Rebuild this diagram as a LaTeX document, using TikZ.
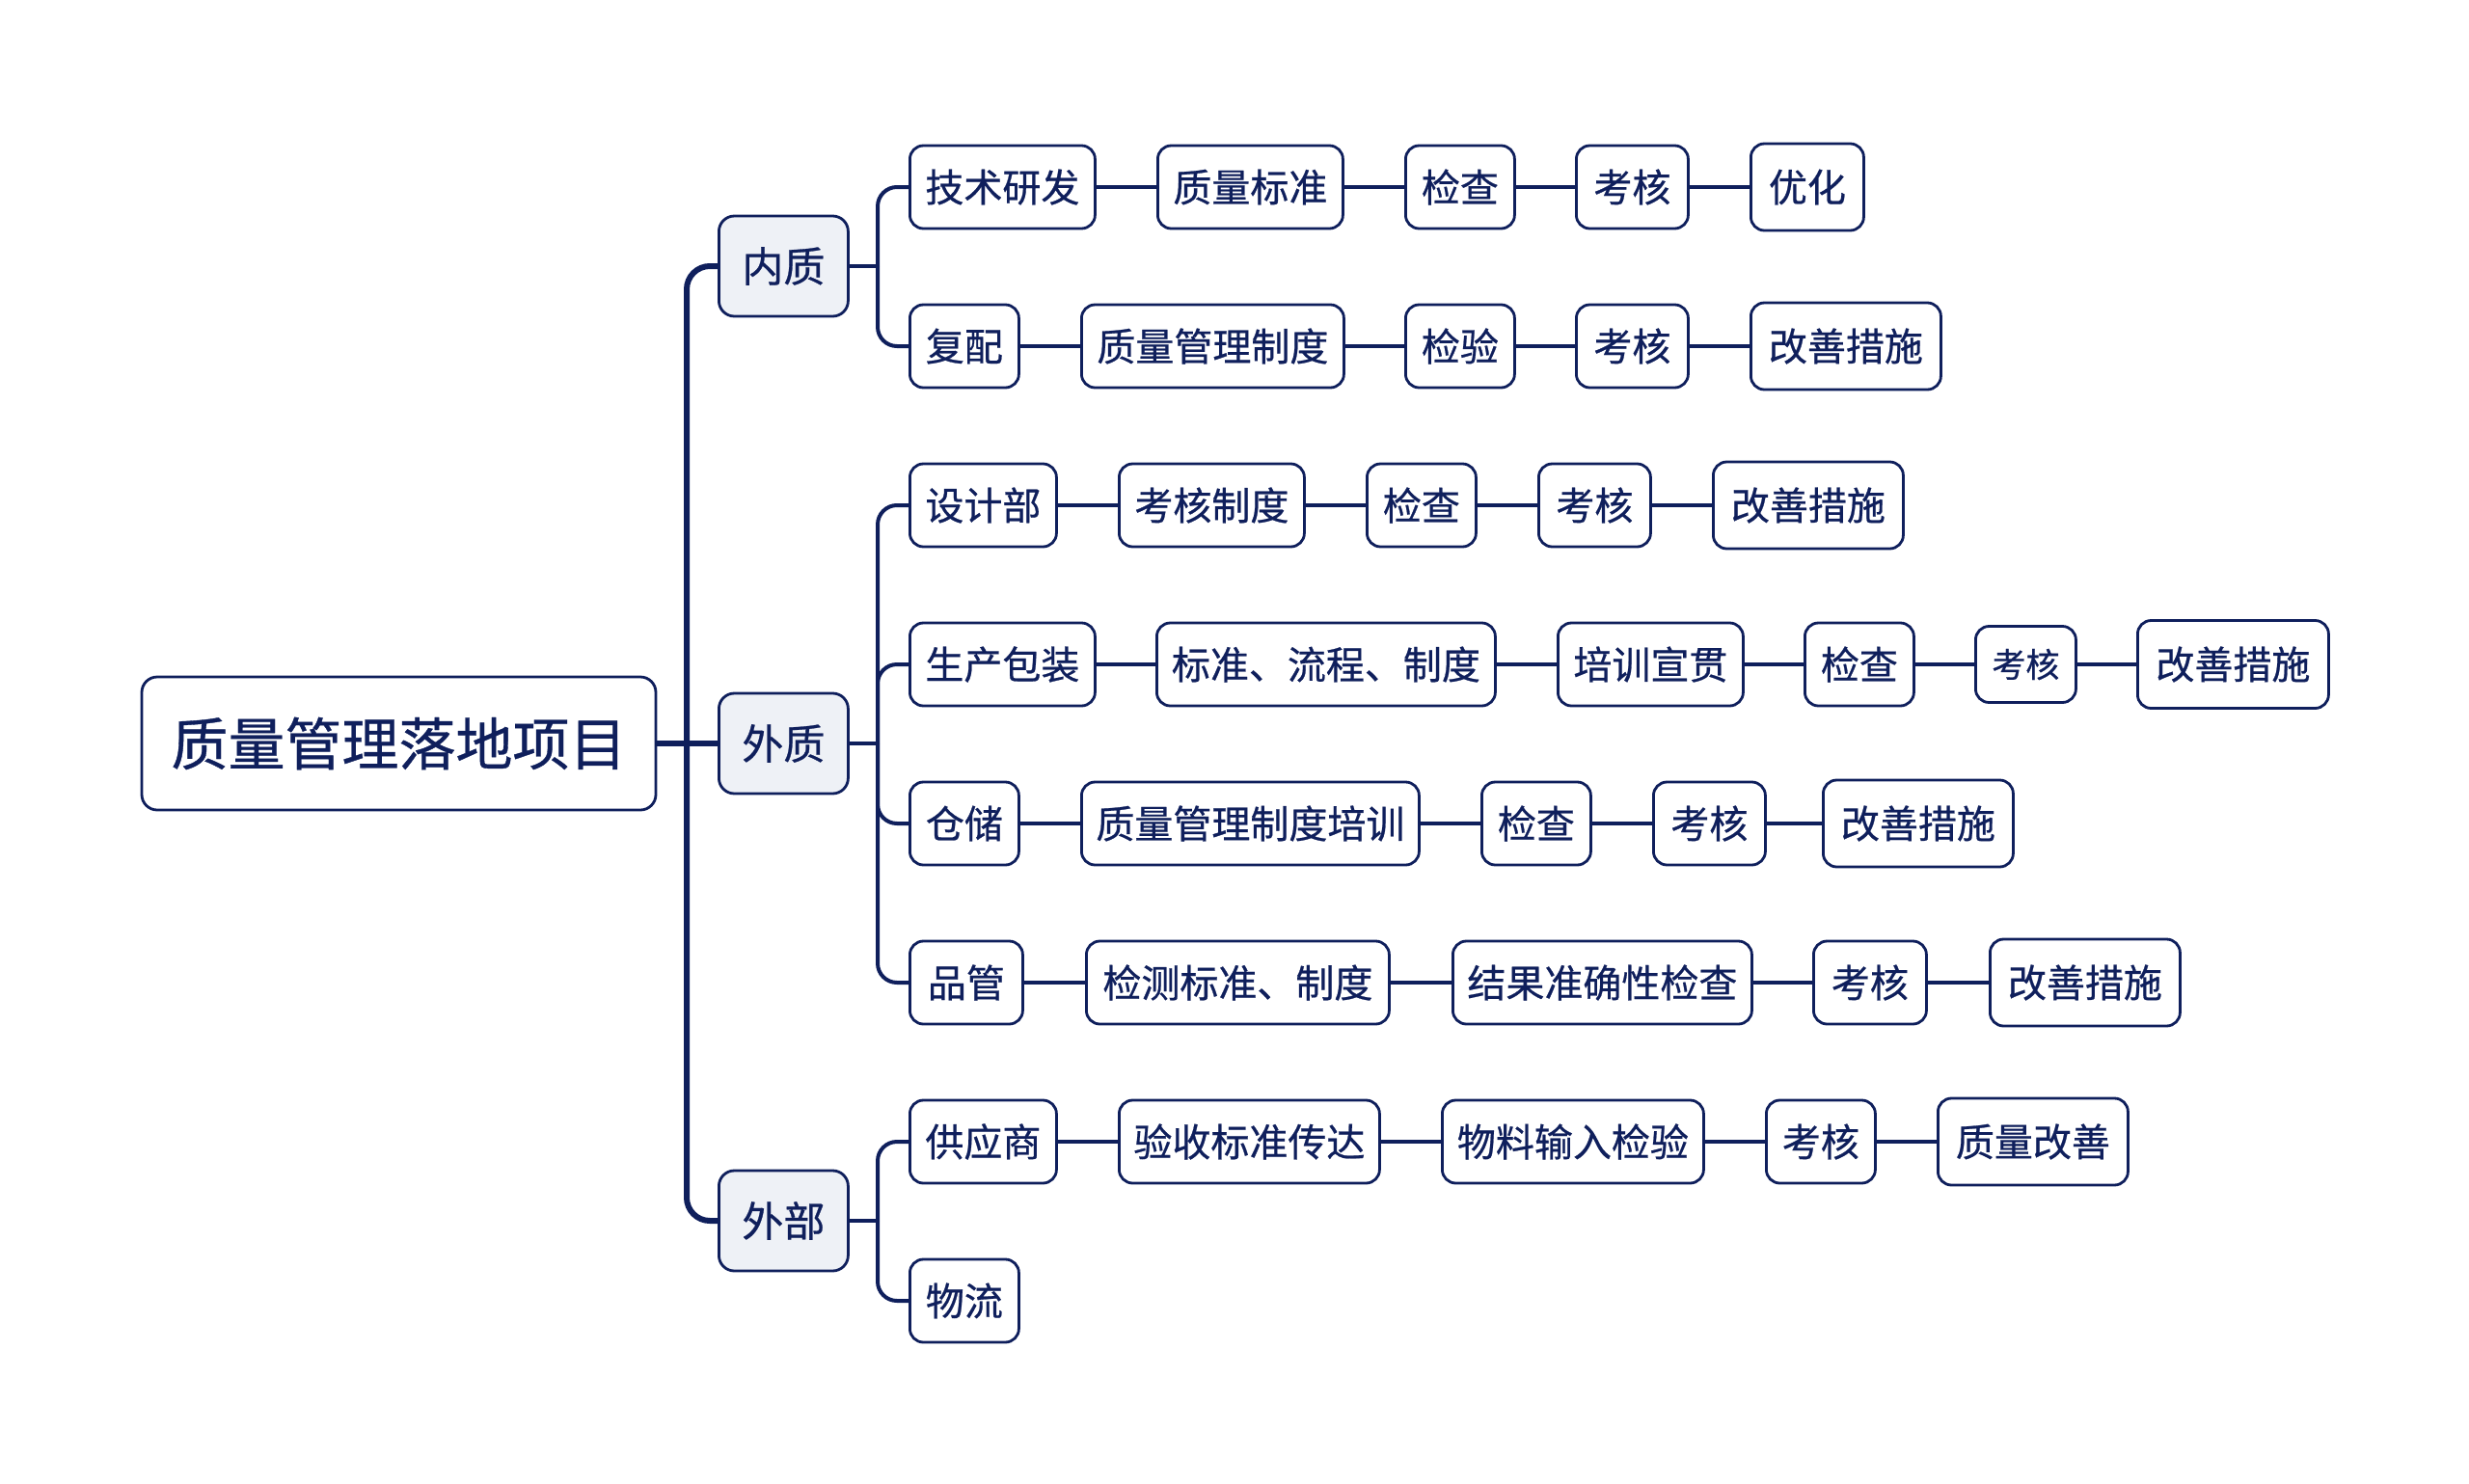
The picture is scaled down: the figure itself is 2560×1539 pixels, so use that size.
\documentclass[tikz,border=0pt]{standalone}
\usepackage{fontspec}
\newfontfamily\cjk{Noto Sans CJK SC}[FakeBold=0.6]
\definecolor{navy}{HTML}{0F1F5C}
\definecolor{lvlfill}{HTML}{EEF1F6}
\tikzset{
  box/.style={draw=navy, line width=2.8pt, rounded corners=14pt, fill=white, text=navy,
    minimum height=86pt, inner sep=0pt, anchor=west, font=\cjk\fontsize{40}{40}\selectfont},
  lvl/.style={draw=navy, line width=2.8pt, rounded corners=16pt, fill=lvlfill, text=navy,
    minimum width=134pt, minimum height=104pt, inner sep=0pt, anchor=west, font=\cjk\fontsize{43}{43}\selectfont},
  rootbox/.style={draw=navy, line width=2.8pt, rounded corners=16pt, fill=white, text=navy,
    minimum width=533pt, minimum height=138pt, inner sep=0pt, font=\cjk\fontsize{59}{59}\selectfont},
  trunk/.style={draw=navy, line width=6pt, rounded corners=24pt},
  conn/.style={draw=navy, line width=4pt, rounded corners=20pt},
}
\begin{document}
\begin{tikzpicture}[x=1pt,y=-1pt]
\useasboundingbox (0,0) rectangle (2560,1539);
% root
\node[rootbox] (root) at (413.5,771) {质量管理落地项目};
% level 1
\node[lvl] (nz) at (744,276) {内质};
\node[lvl] (wz) at (744,771) {外质};
\node[lvl] (wb) at (744,1266) {外部};
% trunk
\coordinate (tj) at (712,771);
\draw[trunk] (root.east) -- (wz.west);
\draw[trunk] (tj) |- (nz.west);
\draw[trunk] (tj) |- (wb.west);
% row 1
\node[box, minimum width=192pt] (r1a) at (942,194) {技术研发};
\node[box, minimum width=192pt] (r1b) at (1199,194) {质量标准};
\node[box, minimum width=113pt] (r1c) at (1456,194) {检查};
\node[box, minimum width=116pt] (r1d) at (1633,194) {考核};
\node[box, minimum width=117pt, minimum height=90pt] (r1e) at (1814,194) {优化};
% row 2
\node[box, minimum width=113pt] (r2a) at (942,359) {复配};
\node[box, minimum width=272pt] (r2b) at (1120,359) {质量管理制度};
\node[box, minimum width=113pt] (r2c) at (1456,359) {检验};
\node[box, minimum width=116pt] (r2d) at (1633,359) {考核};
\node[box, minimum width=197pt, minimum height=90pt] (r2e) at (1814,359) {改善措施};
% row 3
\node[box, minimum width=152pt] (r3a) at (942,524) {设计部};
\node[box, minimum width=192pt] (r3b) at (1159,524) {考核制度};
\node[box, minimum width=113pt] (r3c) at (1416,524) {检查};
\node[box, minimum width=116pt] (r3d) at (1594,524) {考核};
\node[box, minimum width=197pt, minimum height=90pt] (r3e) at (1775,524) {改善措施};
% row 4
\node[box, minimum width=192pt] (r4a) at (942,689) {生产包装};
\node[box, minimum width=351pt] (r4b) at (1198,689) {标准、流程、制度};
\node[box, minimum width=192pt] (r4c) at (1614,689) {培训宣贯};
\node[box, minimum width=113pt] (r4d) at (1870,689) {检查};
\node[box, minimum width=104pt, minimum height=79pt, font=\cjk\fontsize{35}{35}\selectfont] (r4e) at (2047,689) {考核};
\node[box, minimum width=198pt, minimum height=91pt] (r4f) at (2215,689) {改善措施};
% row 5
\node[box, minimum width=113pt] (r5a) at (942,854) {仓储};
\node[box, minimum width=350pt] (r5b) at (1120,854) {质量管理制度培训};
\node[box, minimum width=113pt] (r5c) at (1535,854) {检查};
\node[box, minimum width=116pt] (r5d) at (1713,854) {考核};
\node[box, minimum width=197pt, minimum height=90pt] (r5e) at (1889,854) {改善措施};
% row 6
\node[box, minimum width=117pt] (r6a) at (942,1019) {品管};
\node[box, minimum width=314pt] (r6b) at (1125,1019) {检测标准、制度};
\node[box, minimum width=310pt] (r6c) at (1505,1019) {结果准确性检查};
\node[box, minimum width=117pt] (r6d) at (1879,1019) {考核};
\node[box, minimum width=197pt, minimum height=90pt] (r6e) at (2062,1019) {改善措施};
% row 7
\node[box, minimum width=152pt] (r7a) at (942,1184) {供应商};
\node[box, minimum width=270pt] (r7b) at (1159,1184) {验收标准传达};
\node[box, minimum width=271pt] (r7c) at (1494,1184) {物料输入检验};
\node[box, minimum width=113pt] (r7d) at (1830,1184) {考核};
\node[box, minimum width=197pt, minimum height=90pt] (r7e) at (2008,1184) {质量改善};
% row 8
\node[box, minimum width=113pt] (r8a) at (942,1349) {物流};
% branches
\coordinate (bn) at (910,276);
\coordinate (bw) at (910,771);
\coordinate (bb) at (910,1266);
\draw[conn] (nz.east) -- (bn);
\draw[conn] (bn) |- (r1a.west);
\draw[conn] (bn) |- (r2a.west);
\draw[conn] (wz.east) -- (bw);
\draw[conn] (bw) |- (r3a.west);
\draw[conn] (bw) |- (r4a.west);
\draw[conn] (bw) |- (r5a.west);
\draw[conn] (bw) |- (r6a.west);
\draw[conn] (wb.east) -- (bb);
\draw[conn] (bb) |- (r7a.west);
\draw[conn] (bb) |- (r8a.west);
% chains
\foreach \a/\b in {r1a/r1b,r1b/r1c,r1c/r1d,r1d/r1e,
                   r2a/r2b,r2b/r2c,r2c/r2d,r2d/r2e,
                   r3a/r3b,r3b/r3c,r3c/r3d,r3d/r3e,
                   r4a/r4b,r4b/r4c,r4c/r4d,r4d/r4e,r4e/r4f,
                   r5a/r5b,r5b/r5c,r5c/r5d,r5d/r5e,
                   r6a/r6b,r6b/r6c,r6c/r6d,r6d/r6e,
                   r7a/r7b,r7b/r7c,r7c/r7d,r7d/r7e}
  \draw[conn] (\a.east) -- (\b.west);
\end{tikzpicture}
\end{document}
